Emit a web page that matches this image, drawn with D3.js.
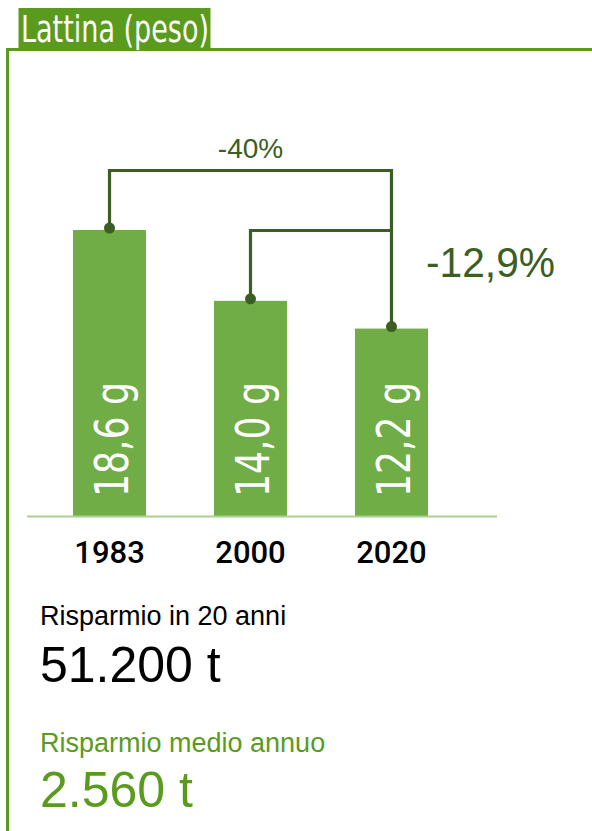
<!DOCTYPE html>
<html><head><meta charset="utf-8">
<script src="https://cdn.jsdelivr.net/npm/d3@7"></script>
<style>html,body{margin:0;padding:0;background:#fff;}svg{display:block;}</style>
</head><body>
<script>
const title = "Lattina (peso)";
const years = ["1983", "2000", "2020"];
const weights = [18.6, 14.0, 12.2];
const weightLabels = ["18,6 g", "14,0 g", "12,2 g"];
const changeAll = "-40%";
const changeRecent = "-12,9%";
const summaryLabels = ["Risparmio in 20 anni", "Risparmio medio annuo"];
const summaryValues = ["51.200 t", "2.560 t"];

const W = 592, H = 831;
const green = "#5a9b1e", barGreen = "#70ad47", dark = "#3b5e22", light = "#a9d18e";
const svg = d3.select("body").append("svg").attr("width", W).attr("height", H);

// frame
svg.append("line").attr("x1", 7.5).attr("x2", W).attr("y1", 49.5).attr("y2", 49.5)
  .attr("stroke", green).attr("stroke-width", 3);
svg.append("line").attr("x1", 7.5).attr("x2", 7.5).attr("y1", 48).attr("y2", H)
  .attr("stroke", green).attr("stroke-width", 3);
svg.append("rect").attr("x", 18.5).attr("y", 8).attr("width", 192).attr("height", 40).attr("fill", green);
svg.append("text").attr("x", 21).attr("y", 42).text(title)
  .attr("fill", "#fff").attr("font-family", "'Liberation Sans Narrow','DejaVu Sans Condensed',sans-serif")
  .attr("font-size", 38).attr("textLength", 188).attr("lengthAdjust", "spacingAndGlyphs");

const x = d3.scaleBand().domain(years).range([73, 428]).paddingInner(0.482).paddingOuter(0);
const y = d3.scaleLinear().domain([0, 18.6]).range([516.5, 230]);

// bars
svg.selectAll("rect.bar").data(years).join("rect").attr("class", "bar")
  .attr("x", d => x(d)).attr("width", x.bandwidth())
  .attr("y", (d, i) => y(weights[i])).attr("height", (d, i) => y(0) - y(weights[i]))
  .attr("fill", barGreen);

// baseline
svg.append("line").attr("x1", 27).attr("x2", 497).attr("y1", y(0)).attr("y2", y(0))
  .attr("stroke", light).attr("stroke-width", 2);

// bar value labels
svg.selectAll("text.val").data(years).join("text").attr("class", "val")
  .attr("transform", (d, i) => `translate(${x(d) + x.bandwidth() / 2 + 18.5},497) rotate(-90)`)
  .text((d, i) => weightLabels[i])
  .attr("fill", "#fff").attr("font-family", "'Liberation Sans Narrow','DejaVu Sans Condensed',sans-serif")
  .attr("font-size", 46).attr("textLength", 115).attr("lengthAdjust", "spacingAndGlyphs");

// year axis labels
const xAxis = d3.axisBottom(x).tickSize(0).tickPadding(0);
const ax = svg.append("g").attr("transform", `translate(0,${y(0)})`).call(xAxis);
ax.select(".domain").remove();
ax.selectAll("text").attr("dy", null).attr("y", 46)
  .attr("font-family", "Roboto,'Liberation Sans',Arial,sans-serif").attr("font-size", 31)
  .attr("font-weight", 500).attr("fill", "#000");

// connectors
const cx = d => x(d) + x.bandwidth() / 2;
const top1 = 170.5, top2 = 230.5;
const rightX = cx(years[2]);
const conn = svg.append("g").attr("fill", "none").attr("stroke", dark).attr("stroke-width", 3.2);
conn.append("path").attr("d", `M${cx(years[0])},${y(weights[0]) - 2}V${top1}H${rightX}V${y(weights[2]) - 1}`);
conn.append("path").attr("d", `M${cx(years[1])},${y(weights[1]) - 2}V${top2}H${rightX}`);
svg.selectAll("circle.dot").data(years).join("circle").attr("class", "dot")
  .attr("cx", d => cx(d)).attr("cy", (d, i) => y(weights[i]) - 2).attr("r", 5.5).attr("fill", dark);

svg.append("text").attr("x", (cx(years[0]) + rightX) / 2).attr("y", 158).attr("text-anchor", "middle")
  .text(changeAll).attr("fill", dark).attr("font-family", "'Liberation Sans',Arial,sans-serif")
  .attr("font-size", 28);
svg.append("text").attr("x", 426).attr("y", 277).text(changeRecent)
  .attr("fill", dark).attr("font-family", "'Liberation Sans',Arial,sans-serif")
  .attr("font-size", 43).attr("textLength", 129).attr("lengthAdjust", "spacingAndGlyphs");

// summary
const f = "'Liberation Sans',Arial,sans-serif";
svg.append("text").attr("x", 40).attr("y", 625).text(summaryLabels[0]).attr("font-family", f).attr("font-size", 27).attr("fill", "#000");
svg.append("text").attr("x", 40).attr("y", 682).text(summaryValues[0]).attr("font-family", f).attr("font-size", 50).attr("fill", "#000");
svg.append("text").attr("x", 40).attr("y", 752).text(summaryLabels[1]).attr("font-family", f).attr("font-size", 27).attr("fill", green);
svg.append("text").attr("x", 40).attr("y", 807).text(summaryValues[1]).attr("font-family", f).attr("font-size", 50).attr("fill", green);
</script>
</body></html>
